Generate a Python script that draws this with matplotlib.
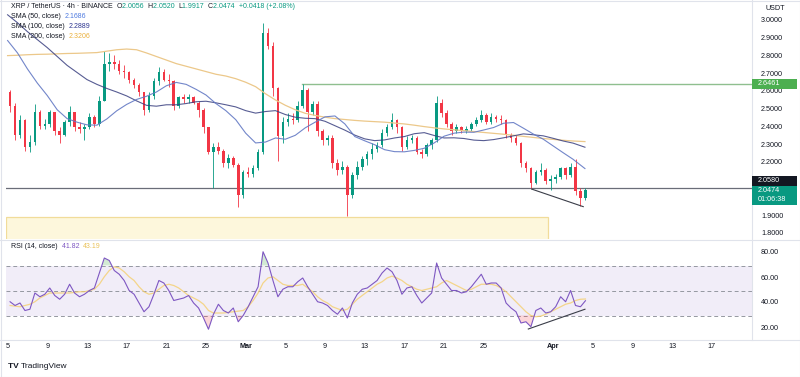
import matplotlib
matplotlib.use("Agg")
import matplotlib.pyplot as plt
import numpy as np
from matplotlib.patches import Rectangle
from matplotlib.transforms import blended_transform_factory as blend

plt.rcParams['font.family'] = ['Liberation Sans', 'DejaVu Sans']

W, H = 800, 377

# ---------------- data ----------------
# time unit: days since 2025-02-01 00:00, 12h candles from 2025-02-05
candle_t0 = 4.0
candle_dt = 0.5
first_open = 2.60
close = [2.52, 2.36, 2.44, 2.29, 2.32, 2.49, 2.41, 2.42, 2.49, 2.38,
         2.36, 2.43, 2.49, 2.40, 2.39, 2.40, 2.46, 2.42, 2.55, 2.76,
         2.77, 2.76, 2.72, 2.71, 2.67, 2.64, 2.60, 2.50, 2.58, 2.66,
         2.71, 2.67, 2.66, 2.52, 2.57, 2.56, 2.57, 2.54, 2.50, 2.40,
         2.26, 2.29, 2.27, 2.20, 2.23, 2.19, 2.02, 2.15, 2.14, 2.17,
         2.26, 2.93, 2.86, 2.62, 2.35, 2.43, 2.45, 2.44, 2.52, 2.61,
         2.49, 2.53, 2.38, 2.33, 2.34, 2.20, 2.16, 2.18, 2.02, 2.13,
         2.18, 2.22, 2.25, 2.28, 2.30, 2.37, 2.40, 2.44, 2.40, 2.29,
         2.33, 2.34, 2.26, 2.25, 2.30, 2.33, 2.54, 2.48, 2.42, 2.38,
         2.40, 2.38, 2.39, 2.42, 2.44, 2.47, 2.43, 2.46, 2.45, 2.44,
         2.36, 2.34, 2.31, 2.20, 2.17, 2.09, 2.15, 2.16, 2.10, 2.11,
         2.12, 2.17, 2.13, 2.18, 2.04, 2.00, 2.0474]
high = [2.61, 2.54, 2.47, 2.45, 2.36, 2.53, 2.50, 2.45, 2.50, 2.49,
        2.40, 2.44, 2.52, 2.49, 2.43, 2.42, 2.48, 2.47, 2.58, 2.83,
        2.82, 2.81, 2.78, 2.75, 2.72, 2.68, 2.65, 2.60, 2.60, 2.68,
        2.74, 2.73, 2.70, 2.67, 2.58, 2.59, 2.59, 2.58, 2.55, 2.51,
        2.40, 2.31, 2.32, 2.28, 2.25, 2.24, 2.20, 2.16, 2.18, 2.19,
        2.28, 2.99, 2.96, 2.88, 2.63, 2.46, 2.48, 2.48, 2.55, 2.646,
        2.62, 2.55, 2.55, 2.39, 2.36, 2.36, 2.22, 2.21, 2.19, 2.15,
        2.21, 2.24, 2.27, 2.31, 2.32, 2.39, 2.42, 2.48, 2.45, 2.41,
        2.35, 2.36, 2.35, 2.28, 2.31, 2.34, 2.58, 2.56, 2.50, 2.43,
        2.42, 2.41, 2.41, 2.43, 2.46, 2.50, 2.48, 2.48, 2.47, 2.47,
        2.45, 2.37, 2.36, 2.32, 2.21, 2.18, 2.16, 2.20, 2.17, 2.13,
        2.14, 2.18, 2.18, 2.20, 2.22, 2.06, 2.06]
low = [2.49, 2.33, 2.34, 2.27, 2.26, 2.30, 2.39, 2.39, 2.40, 2.36,
       2.31, 2.35, 2.41, 2.38, 2.37, 2.33, 2.39, 2.40, 2.41, 2.55,
       2.72, 2.73, 2.70, 2.68, 2.65, 2.62, 2.58, 2.47, 2.49, 2.56,
       2.64, 2.66, 2.63, 2.50, 2.51, 2.54, 2.54, 2.53, 2.46, 2.37,
       2.25, 2.06, 2.25, 2.18, 2.17, 2.18, 1.95, 2.00, 2.12, 2.12,
       2.16, 2.25, 2.84, 2.58, 2.21, 2.31, 2.41, 2.42, 2.43, 2.51,
       2.38, 2.47, 2.35, 2.30, 2.30, 2.17, 2.13, 2.14, 1.90, 2.00,
       2.11, 2.16, 2.19, 2.22, 2.26, 2.29, 2.35, 2.39, 2.37, 2.27,
       2.28, 2.31, 2.25, 2.23, 2.24, 2.28, 2.32, 2.46, 2.40, 2.36,
       2.37, 2.37, 2.37, 2.38, 2.41, 2.43, 2.42, 2.42, 2.43, 2.42,
       2.34, 2.32, 2.30, 2.18, 2.15, 2.06, 2.08, 2.13, 2.08, 2.05,
       2.09, 2.11, 2.11, 2.12, 2.02, 1.955, 1.99]

sma_days = list(range(4, 62)) + [62.2]
sma50 = [2.89, 2.82, 2.73, 2.65, 2.58, 2.50, 2.45, 2.43, 2.415, 2.413,
         2.448, 2.494, 2.53, 2.558, 2.576, 2.60, 2.635, 2.654, 2.643, 2.615,
         2.583, 2.535, 2.495, 2.444, 2.368, 2.313, 2.318, 2.341, 2.334, 2.356,
         2.398, 2.43, 2.46, 2.465, 2.42, 2.349, 2.325, 2.303, 2.275, 2.264,
         2.263, 2.271, 2.283, 2.313, 2.351, 2.368, 2.374, 2.373, 2.386, 2.40,
         2.424, 2.428, 2.396, 2.363, 2.334, 2.296, 2.258, 2.221,
         2.1686]
sma100 = [3.035, 2.99, 2.94, 2.895, 2.85, 2.80, 2.75, 2.71, 2.67, 2.643,
          2.62, 2.60, 2.578, 2.55, 2.525, 2.52, 2.528, 2.528, 2.535, 2.545,
          2.548, 2.539, 2.528, 2.516, 2.495, 2.481, 2.49, 2.495, 2.473, 2.458,
          2.452, 2.45, 2.435, 2.41, 2.385, 2.357, 2.336, 2.326, 2.33, 2.341,
          2.349, 2.365, 2.371, 2.355, 2.341, 2.342, 2.338, 2.329, 2.326, 2.332,
          2.342, 2.353, 2.364, 2.359, 2.353, 2.339, 2.324, 2.312,
          2.2889]
sma200 = [2.805, 2.807, 2.81, 2.812, 2.813, 2.815, 2.817, 2.818, 2.82, 2.822,
          2.83, 2.838, 2.842, 2.838, 2.82, 2.80, 2.78, 2.76, 2.745, 2.73,
          2.715, 2.70, 2.69, 2.675, 2.655, 2.63, 2.59, 2.555, 2.525, 2.50,
          2.48, 2.468, 2.458, 2.45, 2.445, 2.44, 2.436, 2.433, 2.43, 2.425,
          2.42, 2.413, 2.405, 2.398, 2.392, 2.387, 2.382, 2.377, 2.372, 2.367,
          2.362, 2.356, 2.35, 2.344, 2.338, 2.333, 2.328, 2.324,
          2.3206]

rsi = [41, 38, 40, 34, 35, 48, 45, 47, 52, 46,
       43, 47, 55, 48, 45, 47, 50, 52, 64, 76,
       74, 66, 63, 58, 50, 47, 40, 33, 37, 47,
       58, 56, 50, 42, 43, 44, 46, 40, 36, 28,
       19, 31, 39, 34, 32, 36, 25, 30, 37, 45,
       53, 81, 72, 58, 45, 51, 53, 53, 57, 60,
       53, 47, 41, 40, 38, 34, 31, 36, 28, 40,
       47, 51, 52, 55, 58, 64, 68, 65, 58, 47,
       52, 53, 46, 40, 44, 48, 72, 60, 55, 50,
       50, 48, 49, 53, 58, 63, 55, 56, 56, 52,
       40, 36, 33, 24, 25, 21, 34, 36, 32, 33,
       37, 45, 41, 50, 38, 37, 41.82]
rsi_ma = [38, 37.5, 37, 38, 39, 41, 44, 46, 48, 48,
          48, 48, 48, 48.5, 49, 49, 50, 51, 55, 61,
          66, 69, 68, 65, 61, 58, 53, 49, 47, 48,
          51, 54, 55, 54, 52, 49, 46, 44, 42, 39,
          34, 32, 32, 32, 32.5, 33, 33.5, 34, 37, 42,
          48, 56, 60, 61, 58, 55, 54, 54, 54, 55,
          52, 49, 45, 42, 40, 37, 35.5, 34, 35, 39,
          43, 46, 49, 52, 55, 57, 60, 61.5, 60, 58,
          55, 53, 51, 50, 51, 52, 53, 56, 58, 56,
          54, 52, 50, 51, 53, 55, 55, 55, 54, 52,
          49, 45, 41, 37, 33, 30, 29, 29.5, 31, 33,
          35, 37, 39, 40, 42, 43, 43.19]

support_level = 2.0580
resist_level = 2.6461
resist_start = 33.65
zone_top = 1.8975
zone_bottom = 1.70
zone_end = 58.45
div_price_t = [56.83, 62.03]
div_price = [2.053, 1.954]
div_rsi_t = [56.49, 62.2]
div_rsi = [19.2, 35.0]

price_ticks = [3.0, 2.9, 2.8, 2.7, 2.6, 2.5, 2.4, 2.3, 2.2, 1.9, 1.8]
rsi_ticks = [80, 60, 40, 20]
x_tick_days = [4, 8, 12, 16, 20, 24, 28, 32, 36, 40, 44, 48, 52, 59, 63, 67, 71, 75]
x_tick_labels = ['5', '9', '13', '17', '21', '25', 'Mar', '5', '9', '13', '17', '21', '25',
                 'Apr', '5', '9', '13', '17']

# ---------------- style ----------------
UP = '#089981'
DOWN = '#f23645'
TXT = '#131722'
GRID = '#e0e3eb'
C50 = '#6379c4'
C100 = '#3a4080'
C200 = '#ecc88a'
CRSI = '#7e57c2'
CRSIMA = '#f5cf6e'

fig = plt.figure(figsize=(W / 100, H / 100), dpi=100)
fig.patch.set_facecolor('white')

def fx(x):
    return x / W

def fy(y):
    return 1 - y / H

L, R = 6, 752
ax = fig.add_axes([fx(L), fy(239), (R - L) / W, 239 / H])
ax2 = fig.add_axes([fx(L), fy(339), (R - L) / W, (339 - 241) / H])
for a in (ax, ax2):
    a.set_xlim(3.839, 79.04)
    a.set_xticks([])
    a.set_yticks([])
    for s in a.spines.values():
        s.set_visible(False)
    a.set_facecolor('none')
ax.set_ylim(1.7718, 3.1183)
ax2.set_ylim(11.2, 89.6)

# ---- price pane ----
t = candle_t0 + candle_dt * (np.arange(len(close)) + 0.5)
c = np.array(close)
o = np.array([first_open] + close[:-1])
h = np.array(high)
l = np.array(low)
cols = np.where(c >= o, UP, DOWN)
ax.vlines(t, l, h, colors=cols, lw=0.6, zorder=3)
ax.bar(t, np.maximum(np.abs(c - o), 0.004), bottom=np.minimum(o, c), width=0.26,
       color=cols, linewidth=0, zorder=4)

ax.plot(sma_days, sma200, color=C200, lw=0.9, zorder=5)
ax.plot(sma_days, sma100, color=C100, lw=0.8, alpha=0.85, zorder=5)
ax.plot(sma_days, sma50, color=C50, lw=0.8, alpha=0.9, zorder=5)

ax.axhline(support_level, color='#6a6d78', lw=0.9, zorder=2)
ax.plot([resist_start, 79.04], [resist_level, resist_level], color='#8fbf8f', lw=1.0, zorder=2)
ax.add_patch(Rectangle((3.839, zone_bottom), zone_end - 3.839, zone_top - zone_bottom,
                       facecolor='#fdf7dc', edgecolor='#f1dc9a', lw=0.9, zorder=1))
ax.plot(div_price_t, div_price, color='#3a3d48', lw=0.8, zorder=6)

# ---- RSI pane ----
ax2.axhspan(30, 70, color=CRSI, alpha=0.1, lw=0, zorder=0)
for lv in (70, 50, 30):
    ax2.axhline(lv, color='#9598a1', lw=0.7, ls=(0, (4, 3)), zorder=1)
r = np.array(rsi)
ax2.fill_between(t, 70, r, where=r > 70, interpolate=True, color='#4caf50', alpha=0.25, lw=0)
ax2.fill_between(t, 30, r, where=r < 30, interpolate=True, color='#f23645', alpha=0.2, lw=0)
ax2.plot(t, rsi_ma, color=CRSIMA, lw=0.9, alpha=0.8, zorder=3)
ax2.plot(t, rsi, color=CRSI, lw=0.8, zorder=4)
ax2.plot(div_rsi_t, div_rsi, color='#3a3d48', lw=0.8, zorder=5)

# ---- frame lines ----
def fline(x0, y0, x1, y1, color=GRID, lw=0.8):
    fig.add_artist(plt.Line2D([fx(x0), fx(x1)], [fy(y0), fy(y1)], color=color, lw=lw,
                              transform=fig.transFigure))

fline(0, 240, 800, 240)
fline(R, 0, R, 340)
fline(0, 340, 800, 340)
fline(0.5, 0, 0.5, 377)
fline(799.5, 0, 799.5, 377)
fline(0, 376.5, 800, 376.5)
fline(0, 0.5, 800, 0.5)

# ---- price axis labels ----
FS = 5.2
ty = blend(fig.transFigure, ax.transData)
for p in price_ticks:
    fig.text(fx(761), p, f'{p:.4f}', transform=ty, fontsize=FS, color=TXT, va='center', ha='left')
fig.text(fx(775), fy(8), 'USDT', fontsize=FS, color=TXT, va='center', ha='center')
ty2 = blend(fig.transFigure, ax2.transData)
for v in rsi_ticks:
    fig.text(fx(761), v, f'{v:.2f}', transform=ty2, fontsize=FS, color=TXT, va='center', ha='left')

def box(y0, y1, color):
    fig.add_artist(Rectangle((fx(R), fy(y1)), fx(797 - R), (y1 - y0) / H, facecolor=color,
                             edgecolor='none', transform=fig.transFigure, zorder=10))

box(78.5, 89, '#4caf50')
fig.text(fx(758), fy(83.8), f'{resist_level:.4f}', fontsize=FS, color='white', va='center', zorder=11)
box(176, 186, '#131722')
fig.text(fx(758), fy(181), f'{support_level:.4f}', fontsize=FS, color='white', va='center', zorder=11)
box(186, 205, UP)
fig.text(fx(758), fy(190.5), f'{close[-1]:.4f}', fontsize=FS, color='white', va='center', zorder=11)
fig.text(fx(758), fy(199.5), '01:06:38', fontsize=FS, color='white', va='center', zorder=11)

# ---- time axis labels ----
tx = blend(ax2.transData, fig.transFigure)
for d, lab in zip(x_tick_days, x_tick_labels):
    bold = lab in ('Mar', 'Apr')
    fig.text(d, fy(347), lab, transform=tx, fontsize=FS, color=TXT, va='center', ha='center',
             fontweight='bold' if bold else 'normal')

# ---- legends ----
renderer = fig.canvas.get_renderer()

def seq(x, y, parts, size=5.0):
    for s, col, wt in parts:
        tt = fig.text(fx(x), fy(y), s, color=col, fontsize=size, fontweight=wt, va='center', ha='left')
        x += tt.get_window_extent(renderer=renderer).width

seq(11, 7, [('XRP / TetherUS · 4h · BINANCE  ', TXT, 'normal'),
            ('O', TXT, 'normal'), ('2.0056  ', UP, 'normal'),
            ('H', TXT, 'normal'), ('2.0520  ', UP, 'normal'),
            ('L', TXT, 'normal'), ('1.9917  ', UP, 'normal'),
            ('C', TXT, 'normal'), ('2.0474  ', UP, 'normal'),
            ('+0.0418 (+2.08%)', UP, 'normal')])
seq(11, 17, [('SMA (50, close)  ', TXT, 'normal'), ('2.1686', '#4f7be0', 'normal')])
seq(11, 27, [('SMA (100, close)  ', TXT, 'normal'), ('2.2889', '#2d3590', 'normal')])
seq(11, 37, [('SMA (200, close)  ', TXT, 'normal'), ('2.3206', '#eab03c', 'normal')])
seq(11, 246, [('RSI (14, close)  ', TXT, 'normal'), ('41.82  ', CRSI, 'normal'),
              ('43.19', '#e9c25a', 'normal')])

seq(8, 366, [('TV ', TXT, 'bold'), ('TradingView', TXT, 'normal')], size=6.0)

fig.savefig('out.png', dpi=100, facecolor='white')
